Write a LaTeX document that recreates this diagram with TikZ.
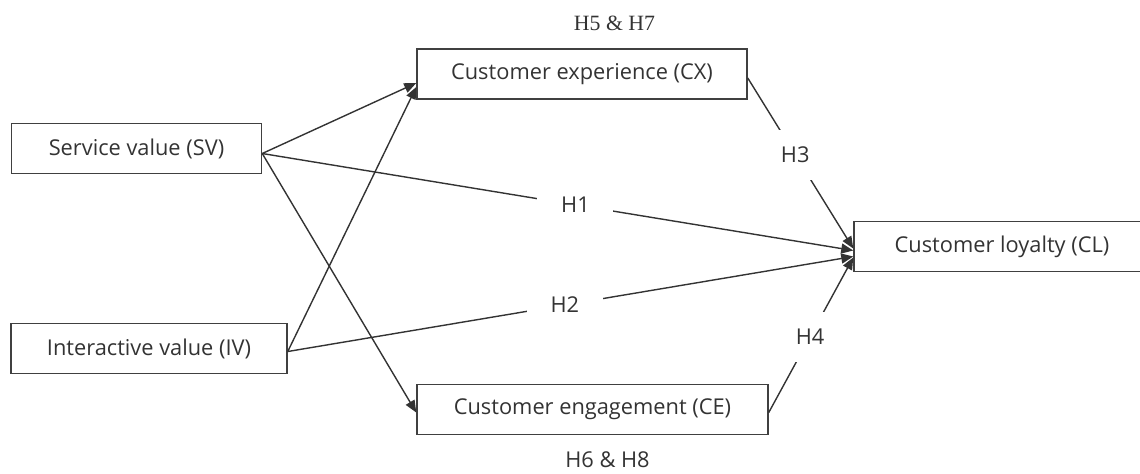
\documentclass[tikz,border=0pt]{standalone}
\usepackage{fontspec}
\setmainfont{Open Sans}
\newfontfamily\timesfont{Liberation Serif}
\usetikzlibrary{arrows.meta,calc}

\begin{document}
\begin{tikzpicture}[x=0.5pt,y=-0.5pt,
    font=\fontsize{10.9}{13}\selectfont,
    every node/.style={text=black!80},
    construct/.style={draw=black!75,line width=0.75pt,minimum height=25pt,inner sep=0pt},
    hyp/.style={fill=white,minimum width=38pt,minimum height=25pt,inner sep=0pt},
    link/.style={draw=black!80,line width=0.7pt},
    arr/.style={link,-{Triangle[length=6pt,width=5pt]}}]
    \clip (0,0) rectangle (1140,473);
    % constructs
    \node[construct,minimum width=125pt] (sv) at (136.5,148.5) {Service value (SV)};
    \node[construct,minimum width=138pt] (iv) at (149,348.5) {Interactive value (IV)};
    \node[construct,minimum width=165pt] (cx) at (582,74) {Customer experience (CX)};
    \node[construct,minimum width=175.5pt] (ce) at (592.5,409.5) {Customer engagement (CE)};
    \node[construct,minimum width=148pt] (cl) at (1002,246.5) {Customer loyalty (CL)};
    % mediation labels
    \node (h57) at (614.5,23) {\timesfont H5 \& H7};
    \node (h68) at (607.5,460) {H6 \& H8};
    % paths to mediators
    \draw[arr] ([yshift=-2.5pt]sv.east) -- ([yshift=-4.5pt]cx.west);
    \draw[arr] ([yshift=-1.5pt]iv.east) -- ([yshift=-6.5pt]cx.west);
    \draw[arr] ([yshift=-2.5pt]sv.east) -- ([yshift=-1.5pt]ce.west);
    % paths to loyalty
    \draw[arr] ([yshift=-2.5pt]sv.east) -- node[hyp,pos=0.53] (h1) {H1} ([yshift=-2pt]cl.west);
    \draw[arr] ([yshift=-1.5pt]iv.east) -- node[hyp,pos=0.49] (h2) {H2} ([yshift=-5pt]cl.west);
    \draw[arr] ([yshift=-2pt]cx.east) -- node[hyp,pos=0.45] (h3) {H3} ([yshift=-1pt]cl.west);
    \draw[arr] ([yshift=-1.5pt]ce.east) -- node[hyp,pos=0.49] (h4) {H4} ([yshift=-5.5pt]cl.west);
\end{tikzpicture}
\end{document}
